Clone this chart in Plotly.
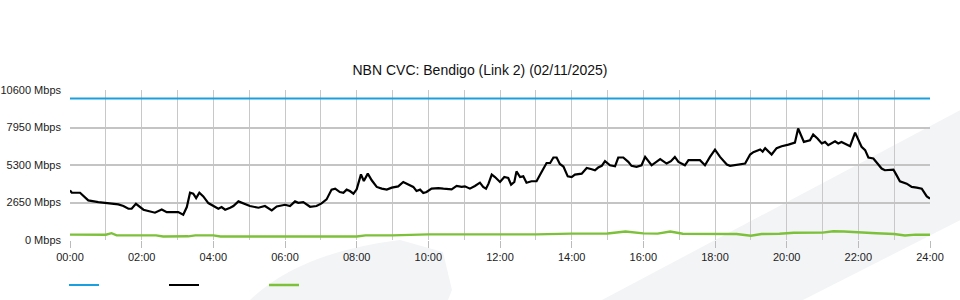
import plotly.graph_objects as go

# ---------------- data ----------------
title_text = "NBN CVC: Bendigo (Link 2) (02/11/2025)"
x_tick_vals = [0, 2, 4, 6, 8, 10, 12, 14, 16, 18, 20, 22, 24]
x_tick_text = ["00:00", "02:00", "04:00", "06:00", "08:00", "10:00", "12:00",
               "14:00", "16:00", "18:00", "20:00", "22:00", "24:00"]
y_tick_vals = [0, 2650, 5300, 7950, 10600]
y_tick_text = ["0 Mbps", "2650 Mbps", "5300 Mbps", "7950 Mbps", "10600 Mbps"]

capacity_hours = [0, 24]
capacity_mbps = [10000, 10000]

traffic_hours = [
    0.00, 0.05, 0.28, 0.51, 0.79, 1.02, 1.16, 1.35, 1.49, 1.63, 1.72, 1.84, 2.05, 2.23,
    2.37, 2.56, 2.70, 3.02, 3.16, 3.26, 3.35, 3.44, 3.52, 3.61, 3.72, 3.86, 4.00, 4.14,
    4.23, 4.33, 4.47, 4.56, 4.70, 4.84, 5.02, 5.26, 5.44, 5.63, 5.77, 6.00, 6.14, 6.28,
    6.37, 6.51, 6.70, 6.88, 7.02, 7.16, 7.30, 7.40, 7.53, 7.63, 7.72, 7.81, 7.91, 8.00,
    8.12, 8.20, 8.31, 8.42, 8.56, 8.70, 8.84, 8.98, 9.16, 9.30, 9.44, 9.58, 9.67, 9.77,
    9.86, 9.95, 10.09, 10.28, 10.42, 10.65, 10.79, 10.93, 11.02, 11.16, 11.30, 11.44,
    11.53, 11.61, 11.68, 11.77, 11.86, 12.00, 12.12, 12.23, 12.31, 12.40, 12.46, 12.56,
    12.65, 12.74, 12.88, 13.02, 13.16, 13.30, 13.40, 13.49, 13.58, 13.67, 13.77, 13.89,
    14.00, 14.09, 14.28, 14.42, 14.56, 14.65, 14.74, 14.84, 14.93, 15.07, 15.21, 15.30,
    15.44, 15.58, 15.67, 15.81, 15.95, 16.05, 16.23, 16.33, 16.47, 16.65, 16.77, 16.88,
    16.98, 17.16, 17.26, 17.58, 17.72, 17.86, 18.00, 18.14, 18.33, 18.42, 18.60, 18.84,
    18.98, 19.07, 19.26, 19.33, 19.40, 19.58, 19.72, 19.86, 20.05, 20.23, 20.32, 20.48,
    20.65, 20.74, 20.86, 20.98, 21.07, 21.16, 21.35, 21.44, 21.53, 21.67, 21.77, 21.91,
    22.09, 22.19, 22.28, 22.42, 22.65, 22.74, 22.98, 23.07, 23.16, 23.35, 23.49, 23.63,
    23.77, 23.91, 24.00]
traffic_mbps = [
    3510, 3340, 3340, 2800, 2680, 2610, 2560, 2520, 2400, 2210, 2210, 2560, 2140, 2040,
    1930, 2160, 1970, 1970, 1780, 2330, 3340, 3270, 2960, 3340, 3080, 2610, 2400, 2210,
    2330, 2140, 2280, 2400, 2730, 2560, 2400, 2280, 2400, 2090, 2370, 2490, 2400, 2730,
    2630, 2680, 2350, 2400, 2590, 2870, 3560, 3630, 3390, 3340, 3560, 3460, 3270, 3580,
    4640, 4170, 4690, 4220, 3750, 3630, 3560, 3700, 3790, 4100, 3930, 3750, 3460, 3560,
    3320, 3390, 3630, 3670, 3630, 3580, 3820, 3750, 3790, 3630, 3820, 4050,
    3750, 3630, 3980, 4620, 4450, 4100, 4450, 4380, 3910, 4100, 4850, 4450,
    4500, 4050, 4150, 4150, 4810, 5440, 5440, 5830, 5830, 5370, 5190, 4500,
    4450, 4620, 4690, 5090, 5000, 4930, 5120, 5240, 5570, 5280, 5210, 5830,
    5830, 5520, 5240, 5170, 5280, 5870, 5280, 5440, 5710, 5400, 5570, 5870,
    5520, 5280, 5640, 5640, 5280, 5870, 6390, 5870, 5330, 5240, 5330, 5400,
    6040, 6210, 6400, 6250, 6490, 6040, 6490, 6630, 6740, 6880, 7880, 6930,
    7050, 7450, 7170, 6820, 6930, 6700, 6980, 6820, 6930, 6740, 6630, 7590,
    6590, 6350, 5830, 5760, 5050, 4930, 4970, 4570, 4150, 3980, 3750, 3700,
    3630, 3080, 2920]

upload_hours = [
    0.0, 0.5, 1.0, 1.16, 1.3, 2.0, 2.4, 2.6, 3.0, 3.3, 3.5, 4.0, 4.2, 5.0, 6.0, 6.9,
    7.15, 7.4, 8.0, 8.25, 9.0, 10.0, 11.0, 12.0, 12.6, 13.0, 14.0, 15.0, 15.5, 16.0,
    16.4, 16.75, 17.1, 18.0, 18.6, 19.0, 19.3, 19.8, 20.2, 21.0, 21.3, 21.6, 22.0,
    22.5, 23.0, 23.3, 23.6, 24.0]
upload_mbps = [
    380, 380, 370, 480, 330, 330, 330, 250, 250, 260, 330, 330, 250, 250, 250, 250,
    300, 250, 250, 330, 330, 400, 400, 390, 380, 400, 450, 460, 600, 470, 450, 600,
    440, 440, 420, 300, 420, 440, 510, 520, 620, 600, 530, 480, 420, 320, 380, 370]

# ---------------- figure ----------------
W, H = 960, 300
ML, MR, MT, MB = 70, 30, 90, 60


def px2paper_x(px):
    return (px - ML) / (W - ML - MR)


def px2paper_y(py):
    return (H - MB - py) / (H - MT - MB)


def path(points, close=True):
    s = ""
    for i, p in enumerate(points):
        cmd = "M" if i == 0 else "L"
        if isinstance(p[0], tuple):
            (cx, cy), (ex, ey) = p
            s += f" Q{px2paper_x(cx):.4f},{px2paper_y(cy):.4f} {px2paper_x(ex):.4f},{px2paper_y(ey):.4f}"
        else:
            s += f" {cmd}{px2paper_x(p[0]):.4f},{px2paper_y(p[1]):.4f}"
    return s + (" Z" if close else "")


wm_color = "#f3f4f6"
shapes = [
    dict(type="path", xref="paper", yref="paper", layer="below", line=dict(width=0),
         fillcolor=wm_color,
         path=path([(250, 300), ((300, 252), (400, 240)), (443, 252), (452, 290), (448, 300)])),
    dict(type="path", xref="paper", yref="paper", layer="below", line=dict(width=0),
         fillcolor=wm_color,
         path=path([(602, 300), (1000, 89), (1000, 200), (803, 300)])),
]

fig = go.Figure()
fig.add_trace(go.Scatter(x=capacity_hours, y=capacity_mbps, mode="lines", name=" ",
                         line=dict(color="#1a9fdf", width=2.2), hoverinfo="skip"))
fig.add_trace(go.Scatter(x=traffic_hours, y=traffic_mbps, mode="lines", name=" ",
                         line=dict(color="#000000", width=2.2), hoverinfo="skip"))
fig.add_trace(go.Scatter(x=upload_hours, y=upload_mbps, mode="lines", name=" ",
                         line=dict(color="#7dc13b", width=2.4), hoverinfo="skip"))

fig.update_layout(
    width=W, height=H,
    margin=dict(l=ML, r=MR, t=MT, b=MB, pad=0, autoexpand=False),
    paper_bgcolor="#ffffff",
    plot_bgcolor="rgba(0,0,0,0)",
    font=dict(family="Liberation Sans, Arial, sans-serif", size=11, color="#222222"),
    title=dict(text=title_text, x=0.5, xanchor="center", y=1 - 70 / H, yanchor="middle",
               font=dict(size=14, color="#111111")),
    showlegend=True,
    legend=dict(orientation="h", x=px2paper_x(64), xanchor="left",
                y=px2paper_y(285), yanchor="middle", bgcolor="rgba(0,0,0,0)",
                entrywidth=55, entrywidthmode="pixels", itemwidth=30,
                font=dict(size=1)),
    shapes=shapes,
)
fig.update_xaxes(
    range=[0, 24], tickvals=x_tick_vals, ticktext=x_tick_text,
    showgrid=True, gridcolor="#c8c8c8", gridwidth=1,
    minor=dict(dtick=1, tick0=0, showgrid=True, gridcolor="#c8c8c8", gridwidth=1),
    ticks="outside", ticklen=7, tickcolor="#bbbbbb", tickwidth=1,
    showline=False, zeroline=False, fixedrange=True,
    tickfont=dict(size=11, color="#222222"),
)
fig.update_yaxes(
    range=[0, 10600], tickvals=y_tick_vals, ticktext=y_tick_text,
    showgrid=True, gridcolor="#c4c4c4", gridwidth=2,
    ticks="", ticklabelstandoff=8, showline=False, zeroline=False, fixedrange=True,
    tickfont=dict(size=11, color="#222222"),
)

fig.write_html("out.html")
